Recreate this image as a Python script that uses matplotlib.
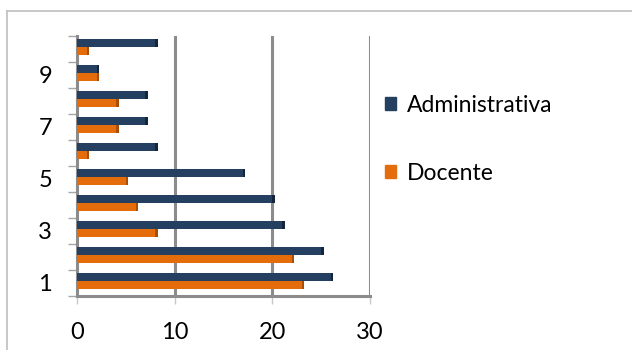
import matplotlib
matplotlib.use("Agg")
import matplotlib.pyplot as plt
from matplotlib.lines import Line2D
import numpy as np

# Staff counts per category
categories = [1, 2, 3, 4, 5, 6, 7, 8, 9, 10]
administrativa = [26, 25, 21, 20, 17, 8, 7, 7, 2, 8]
docente = [23, 22, 8, 6, 5, 1, 4, 4, 2, 1]
x_ticks = [0, 10, 20, 30]
y_labels = [1, 3, 5, 7, 9]

navy = "#243F60"
navy_side = "#14263D"
orange = "#E46C0A"
orange_side = "#A84F07"
grid_gray = "#8C8C8C"

plt.rcParams["font.family"] = ["Lato", "DejaVu Sans"]

fig = plt.figure(figsize=(6.32, 3.5), dpi=100)
fig.patch.set_facecolor("white")

W, H = 632, 350
ax = fig.add_axes([77 / W, 1 - 296 / H, (370 - 77) / W, (296 - 35.7) / H])

pos = np.array(categories, dtype=float)
bh = 0.32
off = 0.07
ax.barh(pos + off + bh / 2, administrativa, height=bh, color=navy, zorder=3)
ax.barh(pos + off - bh / 2, docente, height=bh, color=orange, zorder=3)
# darker end faces give the bars a little depth
ax.barh(pos + off + bh / 2, [0.25] * len(categories), left=administrativa,
        height=bh, color=navy_side, zorder=3)
ax.barh(pos + off - bh / 2, [0.25] * len(categories), left=docente,
        height=bh, color=orange_side, zorder=3)

ax.set_xlim(0, 30)
ax.set_ylim(0.5, 10.5)

# vertical gridlines
for v in x_ticks[1:]:
    ax.axvline(v, color=grid_gray, lw=2.2, zorder=1)

ax.set_xticks(x_ticks)
ax.set_xticklabels([str(v) for v in x_ticks])
ax.set_yticks(y_labels)
ax.set_yticklabels([str(v) for v in y_labels])
ax.set_yticks(np.arange(0.5, 11, 1.0), minor=True)

ax.tick_params(axis="y", which="major", length=0, pad=18, labelsize=17)
ax.tick_params(axis="y", which="minor", length=6.5, width=1, color="#A6A6A6")
ax.tick_params(axis="x", which="major", length=5.5, width=1, color="#C8C8C8",
               pad=13, labelsize=17)

for s in ["top", "right"]:
    ax.spines[s].set_visible(False)
for s in ["left", "bottom"]:
    ax.spines[s].set_color(grid_gray)
    ax.spines[s].set_linewidth(2.2)

ax.set_facecolor("none")

leg = fig.legend(handles=[
    plt.Rectangle((0, 0), 1, 1, color=navy),
    plt.Rectangle((0, 0), 1, 1, color=orange)],
    labels=["Administrativa", "Docente"],
    loc="upper left", bbox_to_anchor=(385 / W, 1 - 95 / H),
    frameon=False, fontsize=16.5, handlelength=0.5, handleheight=0.5,
    handletextpad=0.45, labelspacing=2.05, borderpad=0, borderaxespad=0)

# outer chart border (clipped by the image edges on the right and bottom)
fig.add_artist(Line2D([7 / W, 1.0], [1 - 11 / H, 1 - 11 / H],
                      transform=fig.transFigure, color="#BFBFBF", lw=1.2))
fig.add_artist(Line2D([7 / W, 7 / W], [0.0, 1 - 11 / H],
                      transform=fig.transFigure, color="#BFBFBF", lw=1.2))

fig.savefig("out.png", dpi=100, facecolor="white")
